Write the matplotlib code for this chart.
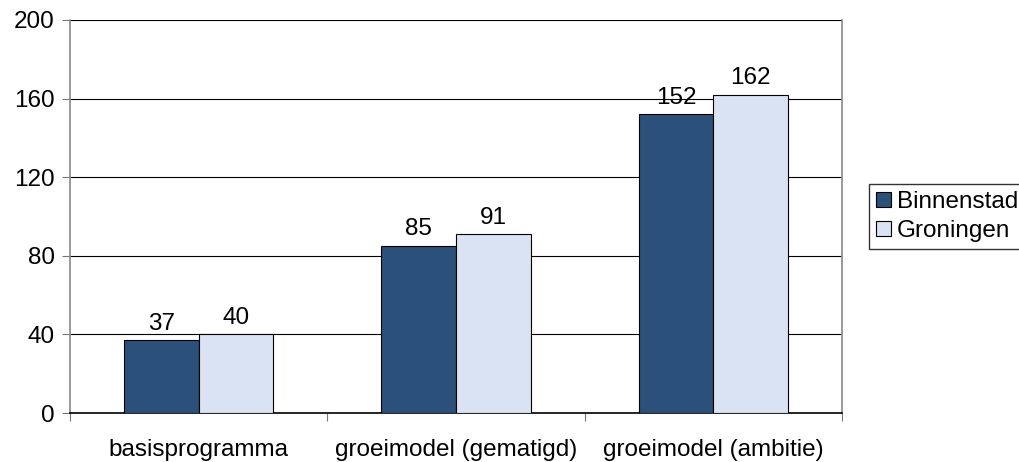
import matplotlib.pyplot as plt
import numpy as np

plt.rcParams['font.family'] = ['Liberation Sans', 'DejaVu Sans']

categories = ['basisprogramma', 'groeimodel (gematigd)', 'groeimodel (ambitie)']
binnenstad = [37, 85, 152]
groningen = [40, 91, 162]
yticks = [0, 40, 80, 120, 160, 200]

fs = 17.5

fig = plt.figure(figsize=(10.19, 4.62), dpi=100)
ax = fig.add_axes([70 / 1019, 49 / 462, 772 / 1019, 393 / 462])

x = np.arange(len(categories))
w = 0.29
b1 = ax.bar(x - w / 2, binnenstad, w, color='#2b5079', edgecolor='black', linewidth=0.8,
            label='Binnenstad', zorder=3)
b2 = ax.bar(x + w / 2, groningen, w, color='#dae3f3', edgecolor='black', linewidth=0.8,
            label='Groningen', zorder=3)
ax.bar_label(b1, labels=[str(v) for v in binnenstad], padding=4, fontsize=fs)
ax.bar_label(b2, labels=[str(v) for v in groningen], padding=4, fontsize=fs)

ax.set_xlim(-0.5, len(categories) - 0.5)
ax.set_ylim(0, 200)
ax.set_yticks(yticks)
ax.yaxis.grid(True, color='black', linewidth=0.8)
ax.set_axisbelow(True)

# category labels between the boundary ticks
ax.set_xticks(np.arange(len(categories) + 1) - 0.5)
ax.set_xticklabels([])
ax.set_xticks(x, minor=True)
ax.set_xticklabels(categories, minor=True)
ax.tick_params(axis='x', which='minor', length=0, pad=18.5, labelsize=fs)
ax.tick_params(axis='x', which='major', length=6, direction='out', color='#777777')
ax.tick_params(axis='y', length=6, direction='out', color='#777777', labelsize=fs, pad=5)

for s in ['left', 'right', 'bottom']:
    ax.spines[s].set_color('#888888')
    ax.spines[s].set_linewidth(1.2)
ax.spines['bottom'].set_color('black')
ax.spines['top'].set_visible(False)

ax.legend(loc='center left', bbox_to_anchor=(1.035, 0.5), fontsize=fs, frameon=True,
          fancybox=False, edgecolor='black', handlelength=0.6, handleheight=0.6,
          handletextpad=0.25, borderpad=0.3, labelspacing=0.3, borderaxespad=0)

fig.savefig('out.png', dpi=100)
